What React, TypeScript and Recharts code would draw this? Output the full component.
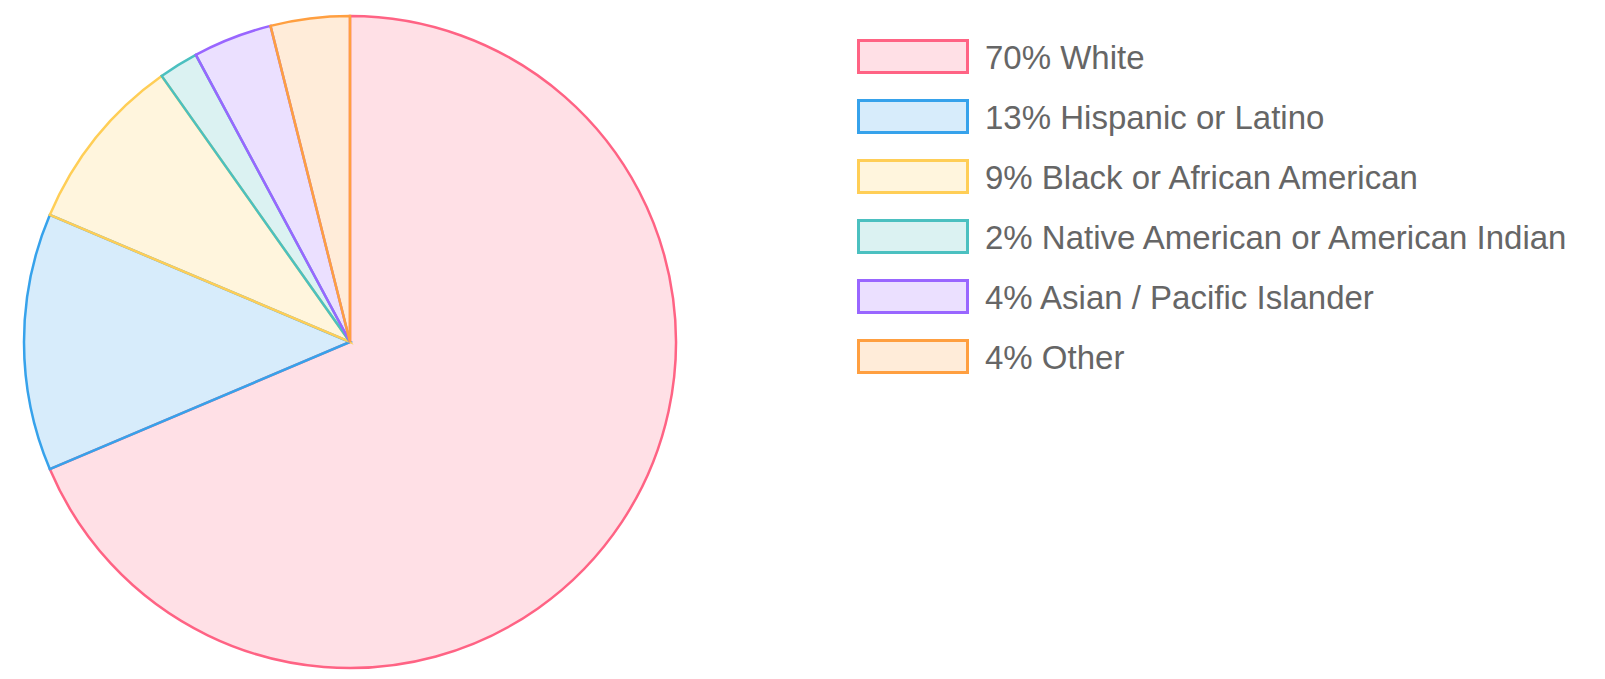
import { Cell, Pie, PieChart } from "recharts";

// Chart.js-style pie: first slice starts at 12 o'clock and runs clockwise.
const categories = [
  "White",
  "Hispanic or Latino",
  "Black or African American",
  "Native American or American Indian",
  "Asian / Pacific Islander",
  "Other",
];
const shares = [70, 13, 9, 2, 4, 4];

const borderColors = [
  "rgb(255, 99, 132)",
  "rgb(54, 162, 235)",
  "rgb(255, 206, 86)",
  "rgb(75, 192, 192)",
  "rgb(153, 102, 255)",
  "rgb(255, 159, 64)",
];
const fillColors = [
  "rgba(255, 99, 132, 0.2)",
  "rgba(54, 162, 235, 0.2)",
  "rgba(255, 206, 86, 0.2)",
  "rgba(75, 192, 192, 0.2)",
  "rgba(153, 102, 255, 0.2)",
  "rgba(255, 159, 64, 0.2)",
];

const data = categories.map((name, i) => ({
  name,
  value: shares[i],
  label: `${shares[i]}% ${name}`,
}));

function LegendList() {
  return (
    <div style={{ position: "absolute", left: 857, top: 26 }}>
      {data.map((d, i) => (
        <div
          key={d.name}
          style={{ display: "flex", alignItems: "center", height: 60 }}
        >
          <div
            style={{
              width: 106,
              height: 29,
              border: `3px solid ${borderColors[i]}`,
              background: fillColors[i],
              marginRight: 16,
            }}
          />
          <span
            style={{
              fontSize: 33,
              color: "#666",
              fontFamily: '"Liberation Sans", Arial, sans-serif',
              whiteSpace: "nowrap",
              position: "relative",
              top: 2,
            }}
          >
            {d.label}
          </span>
        </div>
      ))}
    </div>
  );
}

export default function App() {
  return (
    <div
      style={{
        position: "absolute",
        left: 0,
        top: 0,
        width: 1605,
        height: 679,
        background: "#fff",
      }}
    >
      <PieChart width={700} height={679} margin={{ top: 0, right: 0, bottom: 0, left: 0 }}>
        <Pie
          data={data}
          dataKey="value"
          nameKey="name"
          cx={350}
          cy={342}
          outerRadius={326}
          startAngle={90}
          endAngle={-270}
          strokeWidth={2.5}
          isAnimationActive={false}
        >
          {data.map((d, i) => (
            <Cell key={d.name} fill={fillColors[i]} stroke={borderColors[i]} />
          ))}
        </Pie>
      </PieChart>
      <LegendList />
    </div>
  );
}
